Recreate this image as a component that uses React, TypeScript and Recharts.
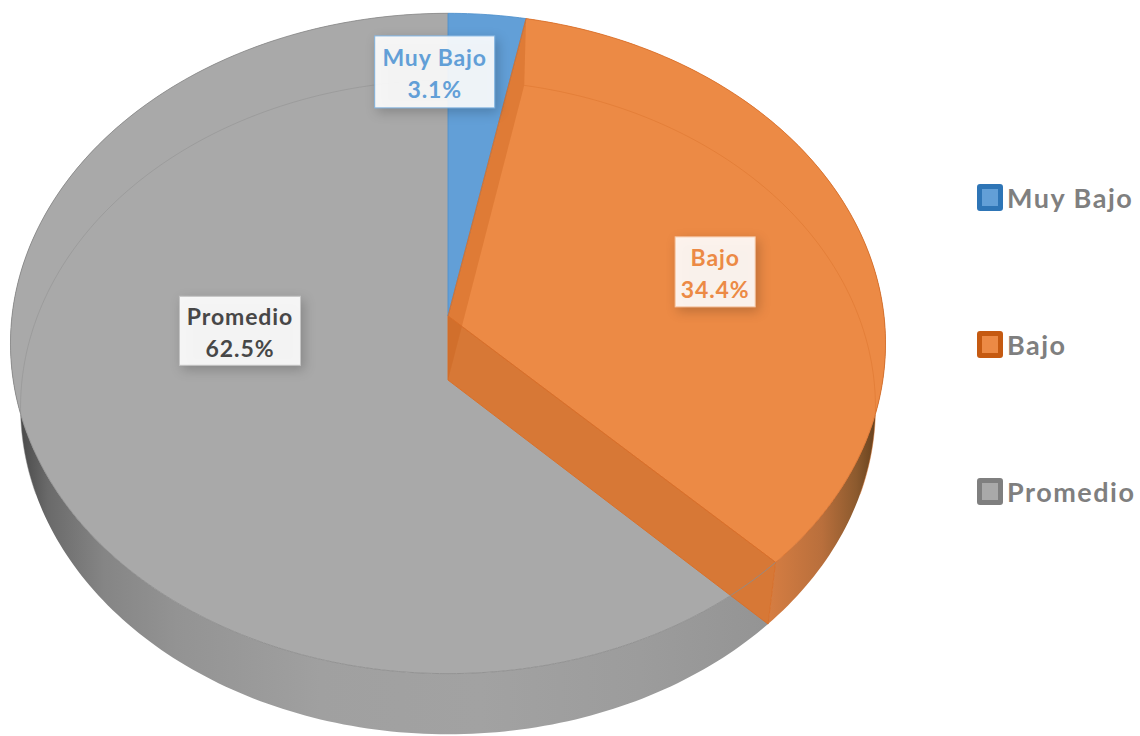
import React from 'react';
import { PieChart, Pie, Legend } from 'recharts';

// Levels and their share of the total, in percent
const CATEGORIES = ['Muy Bajo', 'Bajo', 'Promedio'];
const SHARES = [3.1, 34.4, 62.5];
const FACE_COLORS = ['#629fd7', '#ec8a45', '#a9a9a9'];
const EDGE_COLORS = ['#4d8fcb', '#d9702a', '#8c8c8c'];
const LEGEND_BORDERS = ['#2e75b6', '#c55a11', '#7f7f7f'];
const LABEL_TEXT = ['#629fd7', '#ec8a45', '#474747'];
const LABEL_BORDERS = ['#7fb2e0', '#f7c9a8', '#c4c4c4'];

// Data-label placement: fraction of the radius along the slice's mid-angle, then a nudge
const LABEL_PLACEMENT = [
  { r: 0.81, dx: -45, dy: 0, w: 120, h: 72 },
  { r: 0.656, dx: 0, dy: 17, w: 80, h: 70 },
  { r: 0.5, dx: 0, dy: -50, w: 121, h: 69 },
];

const rows = CATEGORIES.map((name, i) => ({ name, value: SHARES[i], fill: FACE_COLORS[i] }));

// Perspective model of the tilted disc
const PERSPECTIVE = 0.0832;
const TOP_TILT = 0.752;
const DEPTH = 64;
const BASE_SCALE = 0.977;
const BASE_TILT = 0.745;

type Pt = [number, number];

const topPoint = (cx: number, cy: number, R: number, deg: number): Pt => {
  const a = (deg * Math.PI) / 180;
  const w = 1 + PERSPECTIVE * Math.sin(a);
  return [cx + (R * Math.cos(a)) / w, cy - (R * TOP_TILT * Math.sin(a)) / w];
};

const basePoint = (cx: number, cy: number, R: number, deg: number): Pt => {
  const a = (deg * Math.PI) / 180;
  const w = 1 + PERSPECTIVE * Math.sin(a);
  return [cx + (R * BASE_SCALE * Math.cos(a)) / w, cy + DEPTH - (R * BASE_TILT * Math.sin(a)) / w];
};

const sweep = (start: number, end: number, step = 1): number[] => {
  const n = Math.max(1, Math.ceil(Math.abs(end - start) / step));
  return Array.from({ length: n + 1 }, (_, i) => start + ((end - start) * i) / n);
};

const toPath = (pts: Pt[], close = true) =>
  'M' + pts.map((p) => `${p[0].toFixed(2)},${p[1].toFixed(2)}`).join('L') + (close ? 'Z' : '');

// Outer rim of each slice, shaded from the shadowed sides toward the front
const RimShape = (p: any) => {
  const { cx, cy, outerRadius: R, startAngle, endAngle, index } = p;
  const angles = sweep(startAngle, endAngle);
  const band: Pt[] = [
    ...angles.map((d) => topPoint(cx, cy, R, d)),
    ...angles.slice().reverse().map((d) => basePoint(cx, cy, R, d)),
  ];
  const id = `rim-${index}`;
  return (
    <g>
      <defs>
        {index === 2 ? (
          <linearGradient id={id} gradientUnits="userSpaceOnUse" x1={0} x2={800} y1={0} y2={0}>
            <stop offset="0.02" stopColor="#454545" />
            <stop offset="0.06" stopColor="#6a6a6a" />
            <stop offset="0.13" stopColor="#858585" />
            <stop offset="0.22" stopColor="#939393" />
            <stop offset="0.4" stopColor="#a0a0a0" />
            <stop offset="0.6" stopColor="#a2a2a2" />
            <stop offset="0.8" stopColor="#9c9c9c" />
            <stop offset="1" stopColor="#929292" />
          </linearGradient>
        ) : (
          <linearGradient id={id} gradientUnits="userSpaceOnUse" x1={770} x2={885} y1={0} y2={0}>
            <stop offset="0" stopColor="#d57d42" />
            <stop offset="0.45" stopColor="#b96f3c" />
            <stop offset="0.75" stopColor="#8c5a2e" />
            <stop offset="1" stopColor="#553616" />
          </linearGradient>
        )}
      </defs>
      {index === 0 ? null : <path d={toPath(band)} fill={`url(#${id})`} />}
    </g>
  );
};

// Top face of each slice
const FaceShape = (p: any) => {
  const { cx, cy, outerRadius: R, startAngle, endAngle, fill } = p;
  const pts: Pt[] = [[cx, cy], ...sweep(startAngle, endAngle).map((d) => topPoint(cx, cy, R, d))];
  return <path d={toPath(pts)} fill={fill} />;
};

// Radial cut walls of the orange slice, the rim lines seen through the faces, and face outlines
const OverlayShape = (p: any) => {
  const { cx, cy, outerRadius: R, startAngle, endAngle, index } = p;
  const cutWall = (d: number): Pt[] => [
    [cx, cy],
    [cx, cy + DEPTH],
    basePoint(cx, cy, R, d),
    topPoint(cx, cy, R, d),
  ];
  const baseArc = sweep(startAngle, endAngle)
    .filter((d) => Math.sin((d * Math.PI) / 180) > -0.35)
    .map((d) => basePoint(cx, cy, R, d));
  const topArc = sweep(startAngle, endAngle).map((d) => topPoint(cx, cy, R, d));
  // The large grey slice only shows its curved edge; its straight edges sit under the orange walls
  const outline: Pt[] = index === 2 ? topArc : [[cx, cy], ...topArc];
  return (
    <g>
      {index === 1 ? (
        <>
          <path d={toPath(cutWall(endAngle))} fill="#d77836" stroke="#d9702a" strokeWidth={1} />
          <path d={toPath(cutWall(startAngle))} fill="#c8611c" fillOpacity={0.36} />
        </>
      ) : null}
      {index === 0 ? null : (
        <path d={toPath(baseArc, false)} fill="none" stroke={EDGE_COLORS[index]} strokeWidth={1} strokeOpacity={0.45} />
      )}
      <path d={toPath(outline, index !== 2)} fill="none" stroke={EDGE_COLORS[index]} strokeWidth={1} strokeOpacity={0.85} />
    </g>
  );
};

const renderLabel = (p: any) => {
  const { cx, cy, outerRadius: R, midAngle, index } = p;
  const place = LABEL_PLACEMENT[index];
  const a = (midAngle * Math.PI) / 180;
  const w = 1 + PERSPECTIVE * Math.sin(a);
  const x = cx + (R * place.r * Math.cos(a)) / w + place.dx;
  const y = cy - (R * place.r * TOP_TILT * Math.sin(a)) / w + place.dy;
  const textStyle = {
    fontFamily: 'Lato, sans-serif',
    fontWeight: 700,
    fontSize: 23,
    letterSpacing: 0.9,
  };
  return (
    <g>
      <rect
        x={x - place.w / 2}
        y={y - place.h / 2}
        width={place.w}
        height={place.h}
        fill="#ffffff"
        fillOpacity={0.9}
        stroke={LABEL_BORDERS[index]}
        strokeWidth={1}
        style={{ filter: 'drop-shadow(3px 4px 6px rgba(0,0,0,0.22))' }}
      />
      <text x={x} y={y - 6} textAnchor="middle" fill={LABEL_TEXT[index]} style={textStyle}>
        {CATEGORIES[index]}
      </text>
      <text x={x} y={y + 26} textAnchor="middle" fill={LABEL_TEXT[index]} style={textStyle}>
        {`${SHARES[index]}%`}
      </text>
    </g>
  );
};

const LegendList = () => (
  <div style={{ position: 'relative', width: 170, height: 340 }}>
    {CATEGORIES.map((name, i) => (
      <div
        key={name}
        style={{
          position: 'absolute',
          left: 0,
          top: i * 147,
          height: 28,
          display: 'flex',
          alignItems: 'center',
          gap: 4,
        }}
      >
        <span
          style={{
            width: 26,
            height: 27,
            boxSizing: 'border-box',
            background: FACE_COLORS[i],
            border: `5px solid ${LEGEND_BORDERS[i]}`,
            borderRadius: 3,
          }}
        />
        <span
          style={{
            fontFamily: 'Lato, sans-serif',
            fontWeight: 700,
            fontSize: 27,
            letterSpacing: 1.5,
            color: '#7f7f7f',
            whiteSpace: 'nowrap',
          }}
        >
          {name}
        </span>
      </div>
    ))}
  </div>
);

export default function App() {
  const pieProps = {
    data: rows,
    dataKey: 'value',
    nameKey: 'name',
    cx: 448,
    cy: 316,
    innerRadius: 0,
    outerRadius: 436,
    startAngle: 90,
    endAngle: -270,
    paddingAngle: 0,
    stroke: 'none',
    isAnimationActive: false,
  };
  return (
    <div style={{ position: 'fixed', left: 0, top: 0, width: 1140, height: 736, background: '#fff', overflow: 'hidden' }}>
      <PieChart width={1140} height={736} margin={{ top: 0, right: 0, bottom: 0, left: 0 }}>
        <Pie {...pieProps} shape={RimShape} legendType="none" />
        <Pie {...pieProps} shape={FaceShape} legendType="none" />
        <Pie {...pieProps} shape={OverlayShape} label={renderLabel} labelLine={false} />
        <Legend
          layout="vertical"
          align="right"
          verticalAlign="top"
          content={<LegendList />}
          wrapperStyle={{ position: 'absolute', left: 977, top: 183, width: 170, height: 340 }}
        />
      </PieChart>
    </div>
  );
}
